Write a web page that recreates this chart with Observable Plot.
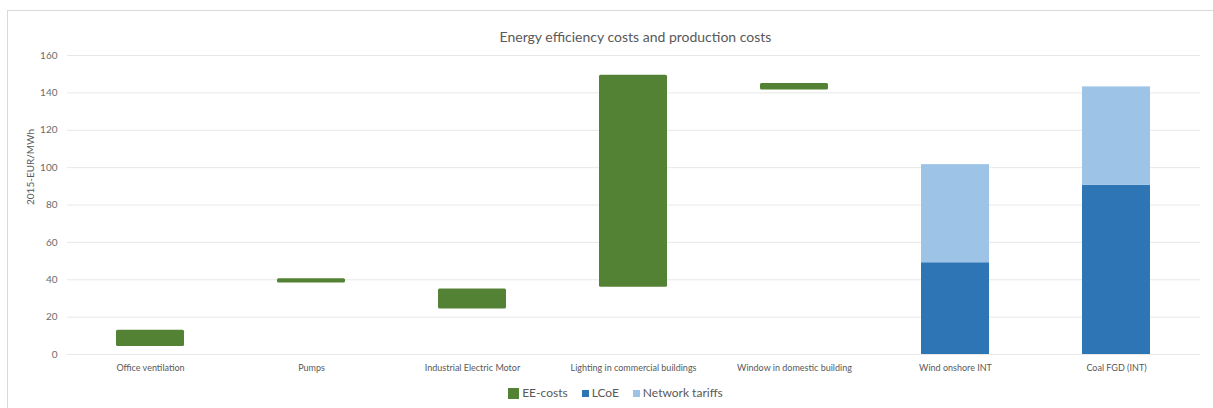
<!DOCTYPE html>
<html>
<head>
<meta charset="utf-8">
<script src="https://cdn.jsdelivr.net/npm/d3@7"></script>
<script src="https://cdn.jsdelivr.net/npm/@observablehq/plot@0.6"></script>
<style>
  html, body { margin: 0; padding: 0; background: #fff; overflow: hidden; }
  body { width: 1213px; height: 408px; font-family: Lato, "Open Sans", sans-serif; }
  #frame {
    position: relative;
    margin: 10px 0 0 7px;
    width: 1220px;
    height: 420px;
    border-left: 1px solid #d9d9d9;
    border-top: 1px solid #d9d9d9;
    box-sizing: border-box;
  }
  #title {
    width: 1205px;
    padding-top: 14px;
    height: 38px;
    box-sizing: border-box;
    line-height: 24px;
    text-align: center;
    font-size: 14px;
    color: #595959;
    padding-left: 50px;
  }
  #legend {
    width: 1205px;
    padding-top: 10px;
    line-height: 14px;
    display: flex;
    justify-content: center;
    gap: 14px;
    font-size: 12px;
    color: #595959;
    padding-left: 10px;
    box-sizing: border-box;
  }
  .item { display: flex; align-items: center; gap: 3px; }
  .sw { display: inline-block; }
</style>
</head>
<body>
<div id="frame">
  <div id="title">Energy efficiency costs and production costs</div>
  <div id="chart"></div>
  <div id="legend"></div>
</div>
<script>
// Measures, in the order they appear along the axis
const categories = [
  "Office ventilation",
  "Pumps",
  "Industrial Electric Motor",
  "Lighting in commercial buildings",
  "Window in domestic building",
  "Wind onshore INT",
  "Coal FGD (INT)"
];

// Energy-efficiency cost ranges (low / high), 2015-EUR/MWh
const eeCategories = categories.slice(0, 5);
const eeLow  = [4.3, 38.2, 24.3, 36.0, 141.5];
const eeHigh = [13.0, 40.5, 35.0, 149.4, 145.0];

// Production costs, stacked: levelised cost plus network tariffs
const prodCategories = ["Wind onshore INT", "Coal FGD (INT)"];
const lcoe = [49.1, 90.5];
const networkTariffs = [52.5, 52.7];

const seriesNames = ["EE-costs", "LCoE", "Network tariffs"];
const seriesColors = ["#548235", "#2e75b6", "#9dc3e6"];
const yTicks = [0, 20, 40, 60, 80, 100, 120, 140, 160];

const eeRows = eeCategories.map((c, i) => ({cat: c, low: eeLow[i], high: eeHigh[i], series: "EE-costs"}));
const prodRows = [];
prodCategories.forEach((c, i) => {
  prodRows.push({cat: c, series: "LCoE", value: lcoe[i]});
  prodRows.push({cat: c, series: "Network tariffs", value: networkTariffs[i]});
});

const chart = Plot.plot({
  width: 1205,
  height: 327,
  marginLeft: 60,
  marginRight: 15,
  marginTop: 6,
  marginBottom: 22,
  style: {fontFamily: "Lato, 'Open Sans', sans-serif", color: "#595959", background: "#fff"},
  x: {domain: categories, paddingInner: 0.58, paddingOuter: 0.29, label: null},
  y: {domain: [0, 160], label: null},
  color: {domain: seriesNames, range: seriesColors},
  marks: [
    Plot.gridY(yTicks, {stroke: "#e8e8e8", strokeOpacity: 1, insetLeft: -1, insetRight: -2}),
    Plot.barY(eeRows, {x: "cat", y1: "low", y2: "high", fill: "series", rx: 1.5}),
    Plot.barY(prodRows, {x: "cat", y: "value", fill: "series"}),
    Plot.axisY(yTicks, {tickSize: 0, tickPadding: 11, fontSize: 10, label: null, fill: "#6b6b6b"}),
    Plot.axisX({tickSize: 0, tickPadding: 10, fontSize: 9, label: null, fill: "#595959"}),
    Plot.text(["2015-EUR/MWh"], {
      frameAnchor: "left", dx: -38, rotate: -90, fontSize: 10, fill: "#595959"
    })
  ]
});
document.getElementById("chart").appendChild(chart);

// Legend below the plot
const legend = document.getElementById("legend");
seriesNames.forEach((name, i) => {
  const item = document.createElement("div");
  item.className = "item";
  const sw = document.createElement("span");
  sw.className = "sw";
  const s = i === 0 ? 11 : 7;
  sw.style.width = s + "px";
  sw.style.height = s + "px";
  sw.style.background = seriesColors[i];
  const label = document.createElement("span");
  label.textContent = name;
  item.appendChild(sw);
  item.appendChild(label);
  legend.appendChild(item);
});
</script>
</body>
</html>
